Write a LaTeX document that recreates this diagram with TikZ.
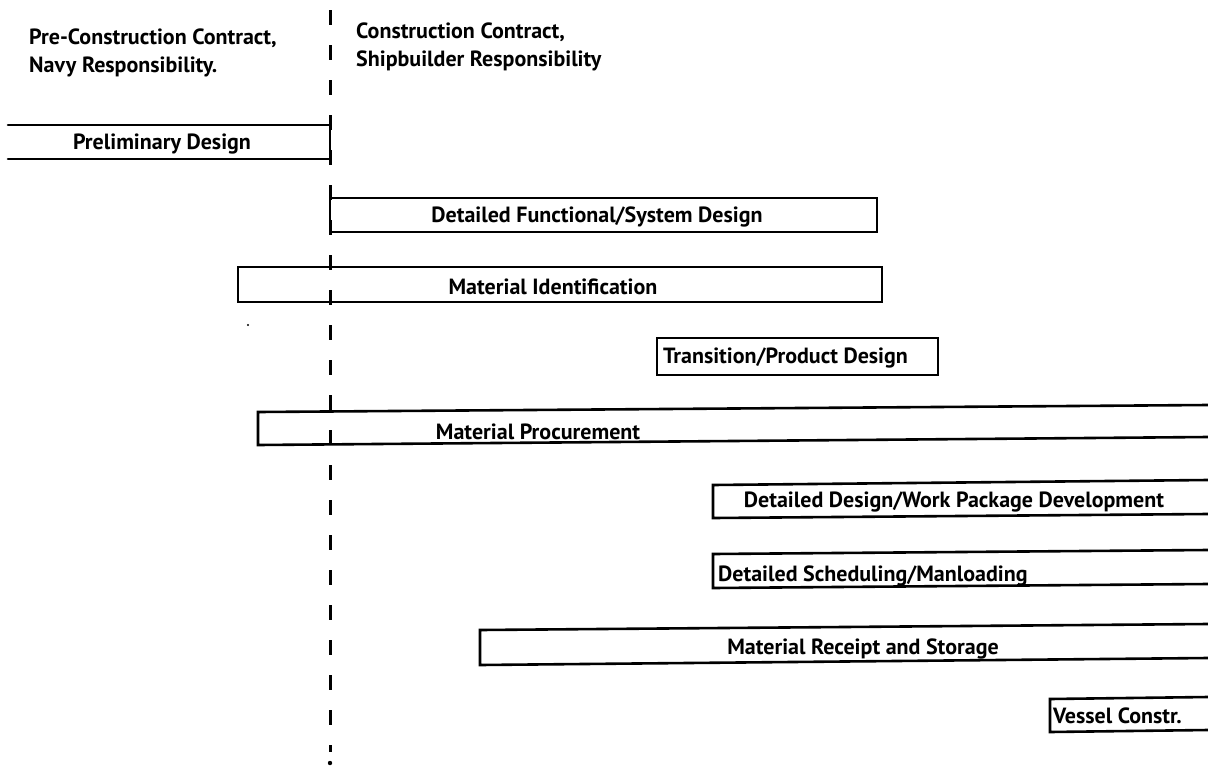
\documentclass[tikz,border=0pt]{standalone}
\usepackage{fontspec}
\setmainfont{PT Sans}
\begin{document}
\begin{tikzpicture}[x=1pt,y=-1pt,
  bar/.style={line width=2.6pt, line cap=round, line join=miter},
  lbl/.style={font=\fontsize{22}{27}\selectfont\bfseries, inner sep=0pt, anchor=base},
  head/.style={font=\fontsize{22}{28}\selectfont\bfseries, inner sep=0pt, align=left, anchor=base west},
  divider/.style={line width=3pt, dash pattern=on 15pt off 20pt}]
\useasboundingbox (0,0) rectangle (1208,766);
% headings (anchor = baseline of the last line)
\node[head] (navy) at (29,72) {Pre-Construction Contract,\\Navy Responsibility.};
\node[head] (ship) at (356,66) {Construction Contract,\\Shipbuilder Responsibility};
% divider
\coordinate (dtop) at (330,10);
\coordinate (dbot) at (330,752);
\draw[divider] (dtop) -- (dbot);
\fill (330,763) circle (2.2pt);
\fill (248,325) circle (1.2pt);
% 1 Preliminary Design
\draw[bar] (8,125) -- (330,125) -- (330,159) -- (8,159);
\node[lbl] (pd) at (162,149) {Preliminary Design};
% 2 Detailed Functional/System Design
\draw[bar] (330,198) rectangle (877,232);
\node[lbl] (dfs) at (597,222) {Detailed Functional/System Design};
% 3 Material Identification
\draw[bar] (238,267) rectangle (882,302);
\node[lbl] (mi) at (553,294) {Material Identification};
% 4 Transition/Product Design
\draw[bar] (657,338) rectangle (938,375);
\node[lbl,anchor=base west] (tpd) at (663,363) {Transition/Product Design};
% 5 Material Procurement
\draw[bar] (1208,405) -- (258,412) -- (258,445) -- (1208,437);
\node[lbl] (mp) at (538,439) {Material Procurement};
% 6 Detailed Design/Work Package Development
\draw[bar] (1208,480) -- (713,485) -- (713,518) -- (1208,514);
\node[lbl] (dd) at (954,507) {Detailed Design/Work Package Development};
% 7 Detailed Scheduling/Manloading
\draw[bar] (1208,550) -- (713,554) -- (713,588) -- (1208,584);
\node[lbl,anchor=base west] (ds) at (718,581) {Detailed Scheduling/Manloading};
% 8 Material Receipt and Storage
\draw[bar] (1208,624) -- (480,630) -- (480,665) -- (1208,658);
\node[lbl] (mr) at (863,654) {Material Receipt and Storage};
% 9 Vessel Constr.
\draw[bar] (1208,697) -- (1050,699) -- (1050,732) -- (1208,730);
\node[lbl,anchor=base west] (vc) at (1053,723) {Vessel Constr.};
\end{tikzpicture}
\end{document}
